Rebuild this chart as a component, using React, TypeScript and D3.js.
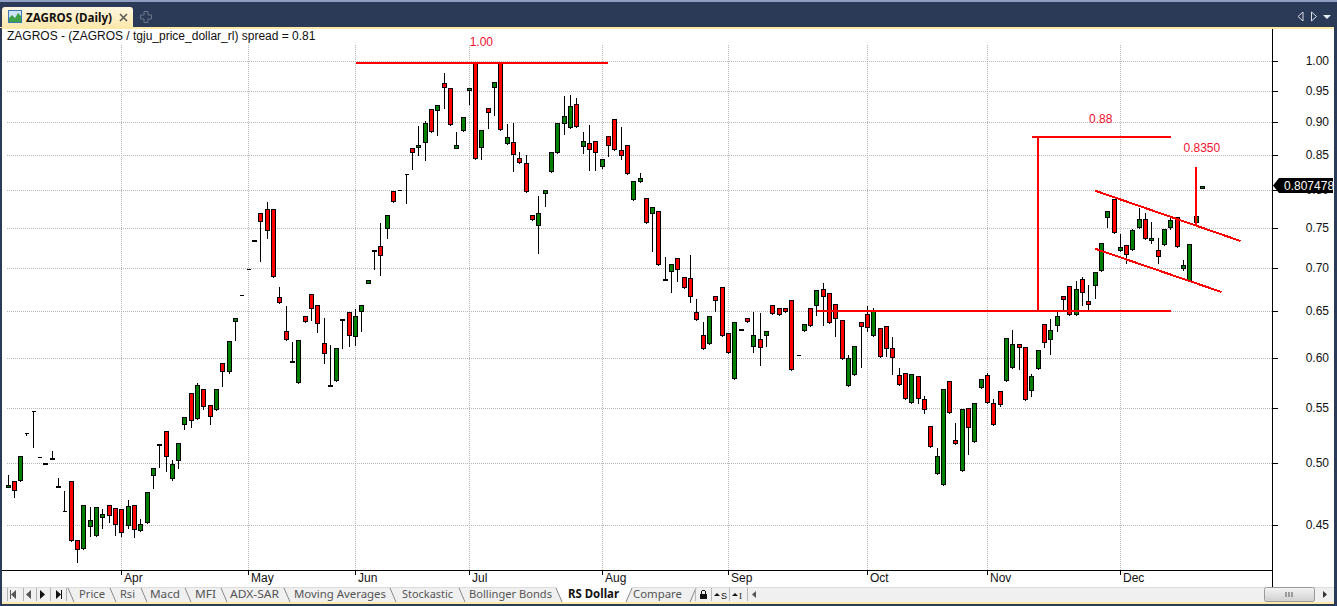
import React, { useEffect, useRef } from 'react';
import * as d3 from 'd3';

const opens = [
  .4803, .4856, .4853, .5274, .5478, .5061, .5011, .5049, .4812, .4612,
  .4856, .4388, .4317, .4484, .4415, .4562, .4660, .4635, .4628, .4492,
  .4660, .4453, .4515, .4895, .5176, .5292, .4870, .5023, .5343, .5650,
  .5402, .5689, .5535, .5487, .5949, .5854, .6389, .6687, .6989, .7346,
  .7699, .7752, .7752, .6664, .6285, .5967, .5747, .6448, .6698, .6570,
  .6157, .5726, .5767, .6414, .6494, .6220, .6494, .6826, .7221, .7275,
  .7490, .7996, .8010, .8233, .8610, .8625, .8692, .9207, .9176, .9628,
  .9546, .8610, .8865, .9513, .9971, .8610, .9223, .9546, .9971, .8669,
  .8698, .8463, .8388, .7673, .7527, .7955, .8260, .8535, .8973, .8911,
  .9287, .8625, .8683, .8712, .8333, .8789, .9050, .8581, .8654, .7874,
  .8122, .7901, .7685, .7726, .6870, .6957, .7126, .6894, .6882, .6494,
  .6248, .6146, .6675, .6780, .6262, .5787, .6308, .6427, .6114, .6199,
  .6231, .6570, .6537, .6537, .6632, .6028, .6285, .6537, .6559, .6756,
  .6710, .6583, .6406, .5717, .5828, .6386, .6472, .6231, .6320, .6342,
  .6104, .5828, .5847, .5554, .5818, .5592, .5337, .4917, .4823, .5767,
  .5211, .4941, .5507, .5193, .5699, .5828, .5554, .5669, .5767, .5898,
  .6146, .6114, .5669, .5891, .6362, .6189, .6342, .6675, .6790, .6463,
  .6872, .6618, .6790, .6968, .7633, .7888, .7209, .7287, .7224, .7503,
  .7620, .7349, .7224, .7287, .7503, .7646, .7004, .6847, .7568, .8040,
];
const highs = [
  .4909, .4856, .5070, .5274, .5478, .5061, .5011, .5116, .4884, .4773,
  .4856, .4388, .4660, .4646, .4643, .4628, .4660, .4635, .4628, .4700,
  .4660, .4549, .4765, .4966, .5176, .5292, .5035, .5184, .5421, .5650,
  .5751, .5689, .5535, .5689, .5949, .6178, .6427, .6687, .6989, .7346,
  .7699, .7847, .7752, .6783, .6559, .6167, .6189, .6448, .6698, .6570,
  .6427, .6136, .6104, .6414, .6494, .6527, .6570, .6861, .7221, .7568,
  .7673, .7996, .8010, .8233, .8610, .8946, .9024, .9207, .9271, .9795,
  .9546, .8850, .9081, .9546, .9971, .8880, .9223, .9645, .9971, .8973,
  .8987, .8550, .8506, .7673, .7927, .8010, .8550, .8987, .9416, .9431,
  .9383, .8850, .8957, .8712, .8448, .8789, .9050, .8927, .8654, .8134,
  .8246, .7901, .7779, .7726, .7137, .7055, .7126, .6894, .7163, .6643,
  .6386, .6448, .6675, .6780, .6262, .6386, .6308, .6427, .6496, .6481,
  .6285, .6570, .6537, .6537, .6632, .6028, .6362, .6537, .6745, .6826,
  .6710, .6583, .6406, .6028, .6125, .6386, .6559, .6537, .6320, .6342,
  .6220, .5898, .5847, .5838, .5818, .5620, .5337, .5136, .5689, .5767,
  .5365, .5497, .5507, .5554, .5787, .5847, .5592, .5669, .6210, .6296,
  .6146, .6114, .5838, .6083, .6362, .6417, .6501, .6675, .6790, .6847,
  .6894, .6801, .6957, .7312, .7726, .7888, .7424, .7287, .7490, .7764,
  .7699, .7581, .7375, .7490, .7646, .7646, .7103, .7299, .7660, .8075,
];
const lows = [
  .4803, .4722, .4853, .5253, .5145, .5061, .5002, .5040, .4804, .4612,
  .4377, .4227, .4317, .4415, .4415, .4482, .4528, .4423, .4415, .4476,
  .4407, .4453, .4515, .4795, .4972, .4937, .4861, .4963, .5307, .5325,
  .5402, .5493, .5352, .5487, .5722, .5843, .6185, .6687, .6989, .7336,
  .7097, .7383, .6904, .6592, .6189, .5957, .5747, .6384, .6409, .6277,
  .5945, .5716, .5767, .6100, .6121, .6132, .6288, .6826, .7000, .6924,
  .7383, .7847, .8010, .7842, .8312, .8515, .8442, .8850, .8813, .9233,
  .8957, .8610, .8865, .9296, .8448, .8457, .8920, .9122, .8880, .8669,
  .8285, .8388, .7982, .7607, .7195, .7799, .8260, .8535, .8828, .8911,
  .8927, .8544, .8299, .8299, .8319, .8500, .8581, .8457, .8233, .7874,
  .8122, .7568, .7219, .7041, .6860, .6728, .6857, .6768, .6604, .6406,
  .6093, .6146, .6501, .6231, .6053, .5787, .6298, .6384, .6068, .5926,
  .6121, .6472, .6463, .6494, .5878, .6028, .6285, .6338, .6466, .6354,
  .6373, .6228, .5990, .5717, .5828, .5904, .6281, .6231, .6010, .6021,
  .5834, .5731, .5592, .5554, .5551, .5455, .5146, .4917, .4823, .5458,
  .5175, .4941, .5084, .5193, .5699, .5554, .5347, .5522, .5767, .5898,
  .5893, .5585, .5620, .5891, .6111, .6038, .6285, .6517, .6463, .6463,
  .6578, .6517, .6659, .6968, .7522, .7443, .7209, .7065, .7224, .7503,
  .7362, .7319, .7071, .7287, .7490, .7259, .6980, .6847, .7568, .8040,
];
const closes = [
  .4823, .4770, .5070, .5274, .5478, .5061, .5002, .5040, .4804, .4612,
  .4377, .4310, .4660, .4542, .4643, .4588, .4572, .4500, .4437, .4652,
  .4461, .4510, .4765, .4966, .5168, .5058, .5001, .5184, .5421, .5384,
  .5728, .5515, .5421, .5689, .5858, .6178, .6427, .6687, .6989, .7336,
  .7581, .7464, .6904, .6592, .6189, .5957, .6189, .6384, .6527, .6362,
  .6042, .5716, .6104, .6404, .6231, .6448, .6570, .6861, .7211, .7151,
  .7673, .7847, .8010, .8233, .8544, .8654, .8987, .8850, .9271, .9546,
  .8957, .8654, .9081, .9546, .8448, .8880, .9145, .9645, .8880, .8774,
  .8506, .8388, .7982, .7607, .7699, .8010, .8550, .8987, .9097, .9255,
  .8927, .8712, .8581, .8535, .8448, .8639, .8581, .8493, .8233, .8134,
  .8177, .7568, .7779, .7041, .6860, .7055, .6977, .6768, .6664, .6406,
  .6093, .6448, .6618, .6231, .6053, .6386, .6298, .6384, .6248, .6104,
  .6285, .6472, .6463, .6494, .5878, .6028, .6362, .6338, .6745, .6664,
  .6373, .6417, .5990, .5999, .6125, .6332, .6320, .6517, .6010, .6093,
  .5999, .5731, .5592, .5838, .5592, .5487, .5146, .5070, .5689, .5458,
  .5175, .5497, .5319, .5554, .5787, .5554, .5347, .5535, .6210, .6146,
  .6114, .5585, .5818, .6083, .6157, .6296, .6448, .6643, .6463, .6756,
  .6710, .6583, .6957, .7312, .7726, .7443, .7259, .7162, .7477, .7620,
  .7362, .7375, .7137, .7490, .7607, .7259, .7041, .7299, .7660, .8075,
];

const priceTicks = [0.45, 0.5, 0.55, 0.6, 0.65, 0.7, 0.75, 0.8, 0.85, 0.9, 0.95, 1];
const monthLabels = ['Apr', 'May', 'Jun', 'Jul', 'Aug', 'Sep', 'Oct', 'Nov', 'Dec'];
const monthStarts = [18, 38, 55, 73, 94, 114, 136, 155, 176];

// hand drawn study lines: bar index and price at both ends
const studyLines = [
  [55, 0.9971, 95, 0.9971],
  [162, 0.8783, 184, 0.8783],
  [163, 0.8783, 163, 0.6507],
  [128, 0.6507, 184, 0.6507],
  [172, 0.8004, 195, 0.734],
  [172, 0.7243, 192, 0.6723],
  [188, 0.8332, 188, 0.7541],
];
const studyLabels = ['1.00', '0.88', '0.8350'];
const studyLabelBars = [74.9, 172.9, 188.9];
const studyLabelPrices = [1.0267, 0.8995, 0.8555];

const lastPrice = 0.807478;
const chartTitle = 'ZAGROS - (ZAGROS / tgju_price_dollar_rl) spread = 0.81';

const tabs = ['Price', 'Rsi', 'Macd', 'MFI', 'ADX-SAR', 'Moving Averages', 'Stockastic', 'Bollinger Bonds'];
const tabStarts = [79, 120, 150, 195, 230, 294, 402, 469];
const tabWidths = [26, 15, 30, 21, 49, 92, 51, 83];
const tabSeparators = [68, 110, 141, 185, 221, 284, 390, 459, 556];

const NAVY = '#2a3a57';
const SANS = 'Liberation Sans, Arial, sans-serif';
const UI = 'Noto Sans, sans-serif';

const App: React.FC = () => {
  const chartRef = useRef<SVGGElement>(null);

  useEffect(() => {
    if (!chartRef.current) return;
    const g = d3.select(chartRef.current);
    g.selectAll('*').remove();

    const x = d3.scaleLinear().domain([0, closes.length - 1]).range([8, 1202.48]);
    const y = d3.scaleLog().domain([1, 0.45]).range([61.3, 525.2]);
    const col = (i: number) => Math.floor(x(i));
    const row = (v: number) => Math.round(y(v));

    // dotted grid
    const grid = g.append('g').attr('stroke', '#b8b8b8').attr('stroke-dasharray', '1,1').attr('shape-rendering', 'crispEdges');
    priceTicks.forEach((t) => {
      const py = Math.floor(y(t)) + 0.5;
      grid.append('line').attr('x1', 7).attr('x2', 1272).attr('y1', py).attr('y2', py);
    });
    monthStarts.forEach((m) => {
      grid.append('line').attr('x1', col(m) + 0.5).attr('x2', col(m) + 0.5).attr('y1', 45).attr('y2', 570);
    });

    // candles
    const candles = g.append('g').attr('shape-rendering', 'crispEdges');
    closes.forEach((close, i) => {
      const open = opens[i];
      const cx = col(i);
      const top = row(Math.max(open, close));
      const bottom = row(Math.min(open, close));
      const up = close > open;
      candles
        .append('line')
        .attr('x1', cx + 0.5)
        .attr('x2', cx + 0.5)
        .attr('y1', row(highs[i]))
        .attr('y2', row(lows[i]) + 1)
        .attr('stroke', '#000');
      // tiny bodies keep one row of fill so the colour still shows
      const diff = bottom - top;
      const h = diff <= 3 ? diff : diff - 1;
      const p = d3.path();
      p.rect(cx - 1.5, top + 0.5, 4, h);
      candles
        .append('path')
        .attr('d', p.toString())
        .attr('fill', up ? '#008000' : '#ff0000')
        .attr('stroke', '#000');
    });

    // study lines on top of the candles
    const study = g.append('g').attr('stroke', '#ff0000').attr('stroke-width', 2).attr('shape-rendering', 'crispEdges');
    studyLines.forEach(([b0, p0, b1, p1]) => {
      study
        .append('line')
        .attr('x1', x(b0))
        .attr('y1', y(p0))
        .attr('x2', x(b1))
        .attr('y2', y(p1));
    });
    studyLabels.forEach((label, i) => {
      g.append('text')
        .attr('x', x(studyLabelBars[i]))
        .attr('y', y(studyLabelPrices[i]))
        .attr('text-anchor', 'middle')
        .attr('font-family', SANS)
        .attr('font-size', 12)
        .attr('fill', '#f01030')
        .text(label);
    });

    // price axis
    const yAxis = g
      .append('g')
      .attr('transform', 'translate(1272.5,0)')
      .call(
        d3
          .axisRight(y)
          .tickValues(priceTicks)
          .tickFormat(d3.format('.2f') as any)
          .tickSize(5)
          .tickPadding(0),
      );
    yAxis.select('.domain').remove();
    yAxis.selectAll('.tick').attr('transform', (d: any) => `translate(0,${Math.floor(y(d)) + 0.5})`);
    yAxis.selectAll('line').attr('stroke', '#000').attr('shape-rendering', 'crispEdges');
    yAxis
      .selectAll('text')
      .attr('x', 56.5)
      .attr('text-anchor', 'end')
      .attr('font-family', SANS)
      .attr('font-size', 12)
      .attr('fill', '#111');

    // time axis
    const timeAxis = g.append('g');
    monthStarts.forEach((m, i) => {
      timeAxis
        .append('line')
        .attr('x1', col(m) + 0.5)
        .attr('x2', col(m) + 0.5)
        .attr('y1', 570)
        .attr('y2', 575)
        .attr('stroke', '#000')
        .attr('shape-rendering', 'crispEdges');
      timeAxis
        .append('text')
        .attr('x', col(m) + 3)
        .attr('y', 582)
        .attr('font-family', SANS)
        .attr('font-size', 12)
        .attr('fill', '#111')
        .text(monthLabels[i]);
    });

    // last price tag
    const tagY = y(lastPrice);
    const tag = g.append('g');
    tag
      .append('path')
      .attr('d', `M1273,${tagY}L1279,${tagY - 7.5}H1333V${tagY + 7.5}H1279Z`)
      .attr('fill', '#000');
    tag
      .append('text')
      .attr('x', 1284)
      .attr('y', tagY + 4.5)
      .attr('font-family', SANS)
      .attr('font-size', 12)
      .attr('fill', '#fff')
      .text(d3.format('.6f')(lastPrice));
  }, []);

  return (
    <svg
      width={1337}
      height={606}
      style={{ position: 'fixed', left: 0, top: 0, display: 'block', background: '#fff' }}
    >
      <defs>
        <linearGradient id="tabFill" x1="0" y1="0" x2="0" y2="1">
          <stop offset="0" stopColor="#fdf6e0" />
          <stop offset="1" stopColor="#fde8ae" />
        </linearGradient>
        <linearGradient id="thumbFill" x1="0" y1="0" x2="0" y2="1">
          <stop offset="0" stopColor="#f4f4f4" />
          <stop offset="1" stopColor="#cfcfcf" />
        </linearGradient>
      </defs>

      <text x={7} y={40} fontFamily={SANS} fontSize={12} fill="#111">
        {chartTitle}
      </text>
      <g ref={chartRef} />
      <line x1={2} x2={1272} y1={570.5} y2={570.5} stroke="#000" shapeRendering="crispEdges" />
      <line x1={1272.5} x2={1272.5} y1={29} y2={587} stroke="#000" shapeRendering="crispEdges" />

      {/* sheet tabs */}
      <rect x={2} y={587} width={1332} height={15} fill="#f0f0f0" />
      <line x1={2} x2={1334} y1={587.5} y2={587.5} stroke="#dcdcdc" />
      {[7, 23, 36, 50, 66].map((sx) => (
        <line key={sx} x1={sx + 0.5} x2={sx + 0.5} y1={588} y2={601} stroke="#b0b0b0" />
      ))}
      <path d="M10,590v9h1v-9zM16,590v9l-5,-4.5z" fill="#555" />
      <path d="M31,590v9l-5,-4.5z" fill="#555" />
      <path d="M40,590v9l5,-4.5z" fill="#111" />
      <path d="M56,590v9l5,-4.5zM61,590v9h1v-9z" fill="#111" />
      <path d="M556,587L563,602H626L632,587Z" fill="#fff" />
      {tabSeparators.map((sx) => (
        <line key={sx} x1={sx} x2={sx + 6} y1={588} y2={602} stroke="#8a8a8a" />
      ))}
      <line x1={632} x2={626} y1={588} y2={602} stroke="#8a8a8a" />
      <line x1={696} x2={690} y1={588} y2={602} stroke="#8a8a8a" />
      {tabs.map((label, i) => (
        <text
          key={label}
          x={tabStarts[i]}
          y={598}
          fontFamily={UI}
          fontSize={11.5}
          fill="#555"
          textLength={tabWidths[i]}
          lengthAdjust="spacingAndGlyphs"
        >
          {label}
        </text>
      ))}
      <text x={568} y={598} fontFamily={UI} fontSize={11.5} fontWeight="bold" fill="#111" textLength={51} lengthAdjust="spacingAndGlyphs">
        RS Dollar
      </text>
      <text x={633} y={598} fontFamily={UI} fontSize={11.5} fill="#555" textLength={49} lengthAdjust="spacingAndGlyphs">
        Compare
      </text>
      {[695, 711, 729, 747].map((sx) => (
        <line key={sx} x1={sx + 0.5} x2={sx + 0.5} y1={588} y2={601} stroke="#b8b8b8" />
      ))}
      <path d="M700,594h7v5h-7zM701,594v-3h1v-1h3v1h1v3h-1v-3h-3v3z" fill="#111" />
      <path d="M714,596l3,-3l3,3z" fill="#111" />
      <text x={721} y={598.5} fontFamily={SANS} fontSize={9} fill="#111">S</text>
      <path d="M732,596l3,-3l3,3z" fill="#111" />
      <text x={739} y={598.5} fontFamily="Liberation Serif, serif" fontSize={9} fill="#111">I</text>
      <path d="M756,591v7l-4,-3.5z" fill="#555" />
      <rect x={1264.5} y={587.5} width={50} height={14} rx={2} fill="url(#thumbFill)" stroke="#999" />
      <path d="M1286,592v5M1289,592v5M1292,592v5" stroke="#555" />
      <path d="M1323,591v7l4,-3.5z" fill="#333" />

      {/* window frame */}
      <rect x={0} y={0} width={1337} height={28} fill={NAVY} />
      <rect x={0} y={0} width={1337} height={2} fill="#8f9fc2" />
      <rect x={0} y={27} width={1334} height={2} fill="#ffe9a8" />
      <rect x={0} y={28} width={2} height={578} fill={NAVY} />
      <rect x={1334} y={28} width={3} height={578} fill={NAVY} />
      <rect x={0} y={604} width={1337} height={2} fill={NAVY} />
      <rect x={2} y={602} width={1332} height={2} fill="#ffe9a8" />

      {/* document tab */}
      <path d="M2,27V10Q2,7 5,7H130Q133,7 133,10V27Z" fill="url(#tabFill)" />
      <rect x={8.5} y={10.5} width={13} height={12} fill="#cfe3f5" stroke="#3a78b8" />
      <path d="M9,22V18L12,15L15,18L18,13L21,16V22Z" fill="#3fa04a" />
      <text x={26} y={22} fontFamily={UI} fontSize={12} fontWeight="bold" fill="#111" textLength={86} lengthAdjust="spacingAndGlyphs">
        ZAGROS (Daily)
      </text>
      <path d="M120,14L127,21M127,14L120,21" stroke="#555" strokeWidth={1.5} />
      <path d="M144,11.5h4v3.5h3.5v4h-3.5v3.5h-4v-3.5h-3.5v-4h3.5z" fill="none" stroke="#6a7488" />
      <path d="M1303,12v9l-5,-4.5z" fill="none" stroke="#d8dde8" />
      <path d="M1311.5,12v9l5,-4.5z" fill="none" stroke="#d8dde8" />
      <path d="M1323,15h8l-4,4z" fill="#e8ecf4" />
    </svg>
  );
};

export default App;
